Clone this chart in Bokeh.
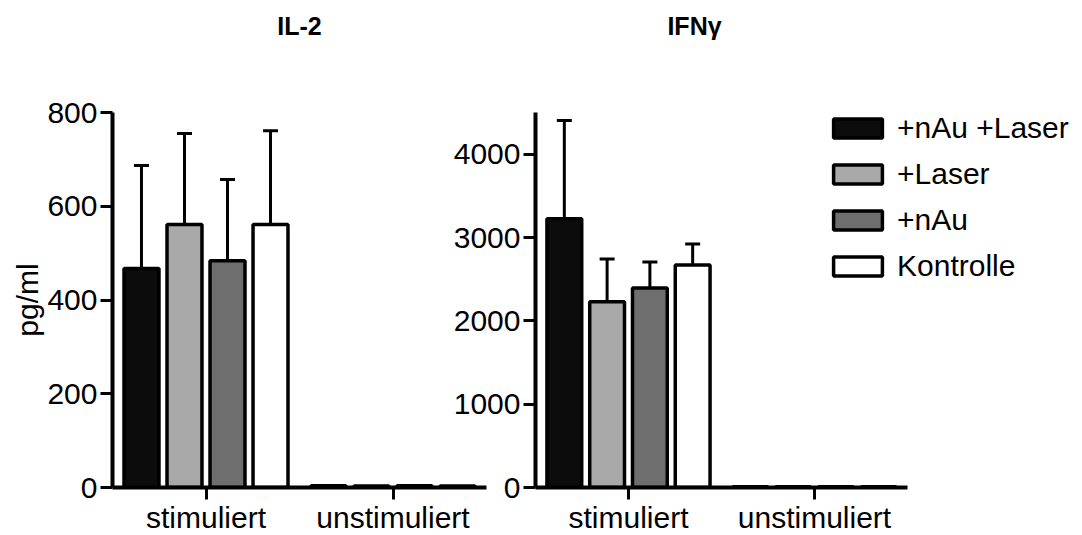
from bokeh.plotting import figure
from bokeh.layouts import row
from bokeh.models import (ColumnDataSource, Range1d, Whisker, TeeHead, LinearAxis,
                          Legend, LegendItem, FixedTicker)
from bokeh.transform import dodge
from bokeh.embed import file_html
from bokeh.resources import INLINE

# ---- data ----
categories = ["stimuliert", "unstimuliert"]
series = ["+nAu +Laser", "+Laser", "+nAu", "Kontrolle"]
series_colors = ["#0c0c0c", "#a9a9a9", "#6e6e6e", "#ffffff"]
series_offsets = [-0.345, -0.115, 0.115, 0.345]

il2_mean = {
    "+nAu +Laser": [467, 4],
    "+Laser": [561, 3],
    "+nAu": [484, 4],
    "Kontrolle": [561, 3],
}
il2_err = {
    "+nAu +Laser": [220, 0],
    "+Laser": [194, 0],
    "+nAu": [173, 0],
    "Kontrolle": [200, 0],
}
ifn_mean = {
    "+nAu +Laser": [3225, 10],
    "+Laser": [2228, 8],
    "+nAu": [2395, 10],
    "Kontrolle": [2671, 8],
}
ifn_err = {
    "+nAu +Laser": [1180, 0],
    "+Laser": [515, 0],
    "+nAu": [312, 0],
    "Kontrolle": [251, 0],
}
il2_ticks = [0, 200, 400, 600, 800]
ifn_ticks = [0, 1000, 2000, 3000, 4000]

FONT = "Liberation Sans"
FS = "30px"
BAR_W = 0.187
cat_pos = [i + 0.5 for i in range(len(categories))]
n_cat = len(categories)


def make_panel(title, title_pos, means, errs, ymax, ticks, xmax, min_left, frame_w,
               min_right, width, ylabel=None):
    p = figure(x_range=Range1d(0, xmax), y_range=Range1d(0, ymax),
               width=width, height=535, frame_width=frame_w, frame_height=375,
               min_border_left=min_left, min_border_right=min_right,
               min_border_top=112, min_border_bottom=48,
               output_backend="svg", toolbar_location=None)
    p.outline_line_color = None
    p.grid.visible = False
    p.background_fill_alpha = 0
    p.border_fill_alpha = 0

    # panel heading, drawn as the label of an (otherwise invisible) top axis
    top = LinearAxis(ticker=FixedTicker(ticks=[title_pos]),
                     major_label_overrides={title_pos: title},
                     axis_line_color=None, major_tick_line_color=None,
                     minor_tick_line_color=None, major_tick_out=0, major_tick_in=0,
                     major_label_text_font=FONT, major_label_text_font_size="25px",
                     major_label_text_font_style="bold", major_label_text_color="black",
                     major_label_standoff=73)
    p.add_layout(top, "above")

    renderers = []
    for name, color, off in zip(series, series_colors, series_offsets):
        vals = means[name]
        src = ColumnDataSource(dict(x=cat_pos, value=vals,
                                    upper=[v + e for v, e in zip(vals, errs[name])]))
        r = p.vbar(x=dodge("x", off), top="value", bottom=0, width=BAR_W,
                   source=src, fill_color=color, line_color="black", line_width=3.5)
        renderers.append((name, r))
        stim_src = ColumnDataSource(dict(x=cat_pos[:1], value=vals[:1],
                                         upper=[vals[0] + errs[name][0]]))
        w = Whisker(source=stim_src, base=dodge("x", off),
                    lower="value", upper="upper", dimension="height",
                    line_color="black", line_width=3,
                    upper_head=TeeHead(size=15, line_width=3, line_color="black"),
                    lower_head=None)
        p.add_layout(w)

    for ax in (p.below[0], p.left[0]):
        ax.axis_line_width = 4
        ax.axis_line_color = "black"
        ax.major_tick_line_width = 3
        ax.major_tick_line_color = "black"
        ax.major_tick_out = 12
        ax.major_tick_in = 0
        ax.minor_tick_line_color = None
        ax.major_label_text_font = FONT
        ax.major_label_text_font_size = FS
        ax.major_label_text_color = "black"
    xa = p.below[0]
    xa.ticker = FixedTicker(ticks=cat_pos)
    xa.major_label_overrides = {pos: c for pos, c in zip(cat_pos, categories)}
    xa.bounds = (0, n_cat)
    xa.major_label_standoff = 1
    ya = p.left[0]
    ya.major_label_standoff = 3
    ya.ticker = FixedTicker(ticks=ticks)
    if ylabel:
        ya.axis_label = ylabel
        ya.axis_label_text_font = FONT
        ya.axis_label_text_font_size = FS
        ya.axis_label_text_font_style = "normal"
        ya.axis_label_text_color = "black"
        ya.axis_label_standoff = 0
    return p, renderers


p1, _ = make_panel("IL-2", 1.0, il2_mean, il2_err, 800, il2_ticks, xmax=2.0,
                   min_left=112, frame_w=374, min_right=4, width=490, ylabel="pg/ml")
p2, rends = make_panel("IFN\u03b3", 0.855, ifn_mean, ifn_err, 4500, ifn_ticks, xmax=2.941,
                       min_left=85, frame_w=547, min_right=0, width=632)
p2.styles = {"margin-left": "-40px"}

legend = Legend(items=[LegendItem(label=n, renderers=[r]) for n, r in rends],
                location=(292, 204), orientation="vertical",
                glyph_width=61, glyph_height=24, spacing=12,
                label_standoff=9, padding=0, margin=0,
                label_text_font=FONT, label_text_font_size=FS, label_text_color="black",
                border_line_color=None, background_fill_alpha=0)
p2.add_layout(legend, "center")

layout = row(p1, p2, spacing=0)
open("out.html", "w").write(file_html(layout, INLINE))
